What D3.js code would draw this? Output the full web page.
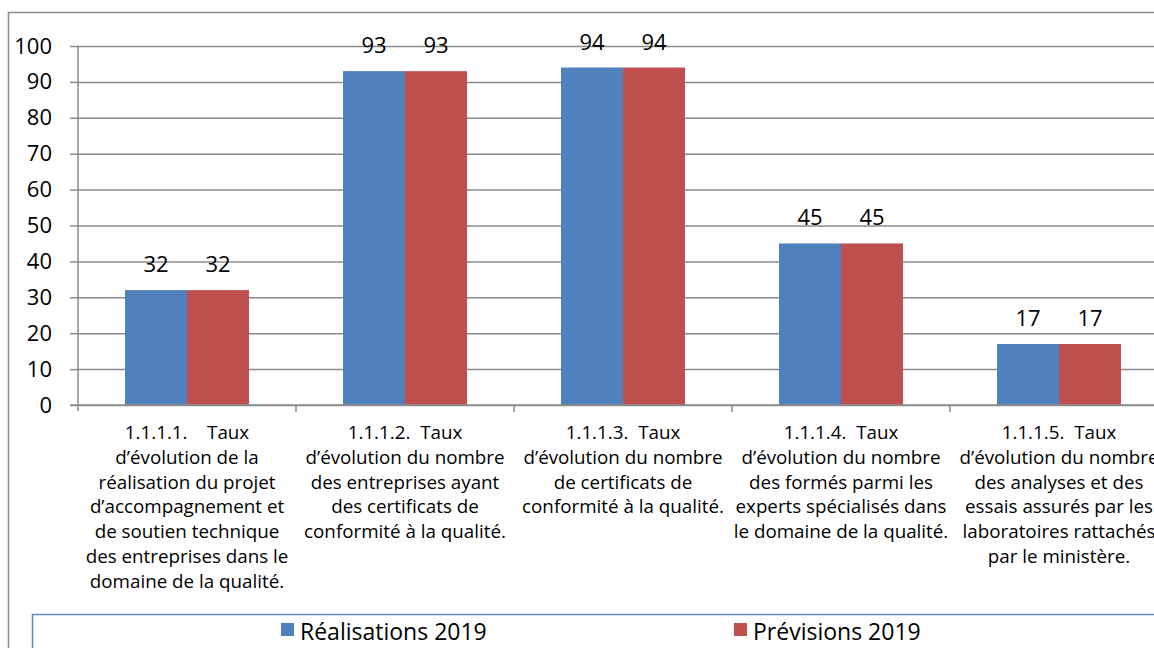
<!DOCTYPE html>
<html>
<head>
<meta charset="utf-8">
<script src="https://cdn.jsdelivr.net/npm/d3@7"></script>
<style>
  body { margin: 0; background: #fff; }
  svg text { font-family: "Open Sans", Lato, sans-serif; fill: #000; }
</style>
</head>
<body>
<div id="chart"></div>
<script>
// data
const categories = ["1.1.1.1", "1.1.1.2", "1.1.1.3", "1.1.1.4", "1.1.1.5"];
const categoryLines = [
  ["1.1.1.1.    Taux", "d\u2019\u00e9volution de la", "r\u00e9alisation du projet", "d\u2019accompagnement et", "de soutien technique", "des entreprises dans le", "domaine de la qualit\u00e9."],
  ["1.1.1.2.  Taux", "d\u2019\u00e9volution du nombre", "des entreprises ayant", "des certificats de", "conformit\u00e9 \u00e0 la qualit\u00e9."],
  ["1.1.1.3.  Taux", "d\u2019\u00e9volution du nombre", "de certificats de", "conformit\u00e9 \u00e0 la qualit\u00e9."],
  ["1.1.1.4.  Taux", "d\u2019\u00e9volution du nombre", "des form\u00e9s parmi les", "experts sp\u00e9cialis\u00e9s dans", "le domaine de la qualit\u00e9."],
  ["1.1.1.5.  Taux", "d\u2019\u00e9volution du nombre", "des analyses et des", "essais assur\u00e9s par les", "laboratoires rattach\u00e9s", "par le minist\u00e8re."]
];
const series = ["R\u00e9alisations 2019", "Pr\u00e9visions 2019"];
const realisations = [32, 93, 94, 45, 17];
const previsions = [32, 93, 94, 45, 17];
const yTicks = [0, 10, 20, 30, 40, 50, 60, 70, 80, 90, 100];
const colors = ["#4f81bd", "#c0504d"];

const W = 1154, H = 648;
const plot = {left: 78, right: 1168, top: 46, bottom: 405};

const svg = d3.select("#chart").append("svg")
  .attr("width", W)
  .attr("height", H);

// outer chart frame
svg.append("rect")
  .attr("x", 8.5).attr("y", 12.5)
  .attr("width", 1200).attr("height", 700)
  .attr("fill", "none").attr("stroke", "#8c8c8c").attr("stroke-width", 1.5);

const x0 = d3.scaleBand()
  .domain(categories)
  .range([plot.left, plot.right]);

const x1 = d3.scaleBand()
  .domain(series)
  .range([0, x0.bandwidth()])
  .paddingOuter(0.758);

const y = d3.scaleLinear()
  .domain([0, 100])
  .range([plot.bottom, plot.top]);

// gridlines + y ticks
const yAxis = svg.append("g")
  .attr("transform", `translate(${plot.left},0)`)
  .call(d3.axisLeft(y).tickValues(yTicks).tickSize(8).tickPadding(18));
yAxis.select(".domain").remove();
yAxis.selectAll(".tick line").attr("stroke", "#8c8c8c").attr("stroke-width", 1.5);
yAxis.selectAll(".tick").append("line")
  .attr("x1", 0).attr("x2", W)
  .attr("stroke", "#8c8c8c").attr("stroke-width", 1.5);
yAxis.selectAll(".tick text")
  .style("font-size", "22px")
  .style("font-family", "'Open Sans', sans-serif")
  .attr("fill", "#000");

// bars
const rows = categories.map((c, i) => ({cat: c, vals: [realisations[i], previsions[i]]}));
const groups = svg.append("g").selectAll("g")
  .data(rows)
  .join("g")
  .attr("transform", d => `translate(${x0(d.cat)},0)`);

groups.selectAll("rect")
  .data(d => d.vals.map((v, k) => ({s: series[k], v, k})))
  .join("rect")
  .attr("x", d => x1(d.s))
  .attr("y", d => y(d.v))
  .attr("width", x1.bandwidth())
  .attr("height", d => y(0) - y(d.v))
  .attr("fill", d => colors[d.k]);

groups.selectAll("text.val")
  .data(d => d.vals.map((v, k) => ({s: series[k], v, k})))
  .join("text")
  .attr("class", "val")
  .attr("x", d => x1(d.s) + x1.bandwidth() / 2)
  .attr("y", d => y(d.v) - 18)
  .attr("text-anchor", "middle")
  .style("font-size", "22px")
  .text(d => d.v);

// y axis line and x axis
svg.append("line")
  .attr("x1", plot.left).attr("x2", plot.left)
  .attr("y1", plot.top).attr("y2", plot.bottom + 6)
  .attr("stroke", "#8c8c8c").attr("stroke-width", 1.5);
svg.append("line")
  .attr("x1", plot.left - 8).attr("x2", W)
  .attr("y1", plot.bottom).attr("y2", plot.bottom)
  .attr("stroke", "#8c8c8c").attr("stroke-width", 1.5);

// category boundary ticks
svg.append("g").selectAll("line")
  .data(categories.slice(1))
  .join("line")
  .attr("x1", d => x0(d)).attr("x2", d => x0(d))
  .attr("y1", plot.bottom).attr("y2", plot.bottom + 7)
  .attr("stroke", "#8c8c8c").attr("stroke-width", 1.5);

// category labels
svg.append("g").selectAll("text")
  .data(rows)
  .join("text")
  .attr("text-anchor", "middle")
  .style("font-size", "18.8px")
  .each(function(d, i) {
    const t = d3.select(this);
    categoryLines[i].forEach((line, j) => {
      t.append("tspan")
        .attr("x", x0(d.cat) + x0.bandwidth() / 2)
        .attr("y", 439 + j * 24.8)
        .attr("xml:space", "preserve")
        .text(line);
    });
  });

// legend
const legend = svg.append("g");
legend.append("rect")
  .attr("x", 32.5).attr("y", 614.5)
  .attr("width", 1200).attr("height", 60)
  .attr("fill", "#fff").attr("stroke", "#5b8bc9").attr("stroke-width", 1.5);
const legendX = [281, 734];
const items = legend.selectAll("g")
  .data(series)
  .join("g")
  .attr("transform", (d, i) => `translate(${legendX[i]},0)`);
items.append("rect")
  .attr("x", 0).attr("y", 623)
  .attr("width", 13).attr("height", 13)
  .attr("fill", (d, i) => colors[i]);
items.append("text")
  .attr("x", 19).attr("y", 640)
  .style("font-size", "23px")
  .text(d => d);
</script>
</body>
</html>
